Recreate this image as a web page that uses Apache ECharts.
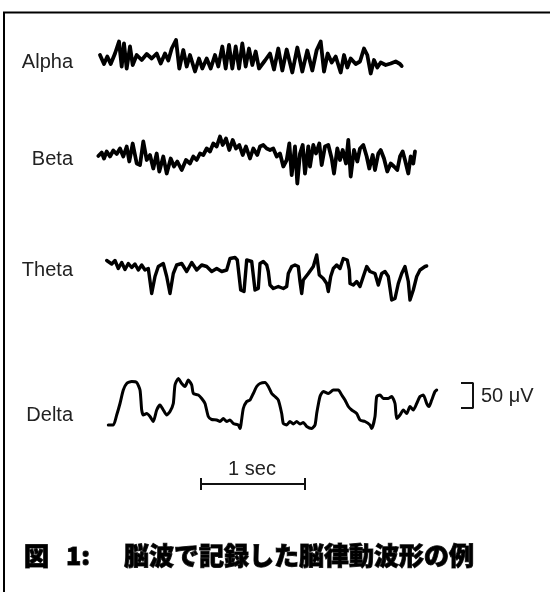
<!DOCTYPE html>
<html><head><meta charset="utf-8">
<script src="https://cdn.jsdelivr.net/npm/echarts@6/dist/echarts.min.js"></script>
<style>html,body{margin:0;padding:0;background:#fff}#c{width:550px;height:592px}</style>
</head><body><div id="c"></div>
<script>
// x unit: samples at FS samples per second; y unit: microvolts
const FS = 104;
const labels = ['Alpha', 'Beta', 'Theta', 'Delta'];
const alpha = [[10,6],[14,-12],[17.3,3],[20.7,-12],[25,9],[29,33],[31.7,-17],[34,29],[36.7,-21],[40,23],[42.7,-14],[46.7,6],[51.7,-4],[56.7,8],[61.7,-1],[66.7,9],[70.7,-11],[75,9],[78.3,-5],[81.7,19],[86,36],[89.3,-21],[93.3,16],[96.7,-17],[100,6],[105,-27],[109,-1],[112.3,-21],[116.7,-1],[120.7,-21],[125,6],[128.3,-17],[132.3,23],[135.7,-21],[139,26],[142.3,-21],[145.7,23],[149,-21],[152.3,29],[155.7,-17],[159,19],[162.3,-14],[165.7,13],[169,-21],[175,-5],[180,9],[184,-23],[188.3,19],[192.3,-25],[196.7,17],[202.3,-29],[207.3,21],[212.3,-27],[217.3,15],[222.3,-25],[226.7,16],[230.7,33],[234,-27],[237.7,9],[241.7,-9],[245.7,3],[250.7,-29],[254,6],[257.3,-19],[260.7,-1],[265.7,-12],[270,-7],[274,19],[277.3,6],[280.7,-31],[284,-4],[287.3,-19],[290.7,-9],[295.7,-14],[300.7,-11],[305.7,-7],[310,-12],[311.7,-16]];
const beta = [[8.3,4],[11.7,11],[14,-1],[16.7,13],[20,3],[23.3,15],[26.7,8],[30,19],[33.3,3],[36.7,23],[39.3,-7],[42.7,29],[46.7,-11],[50,-14],[53.3,33],[56.7,-4],[60,6],[63.3,-21],[66.7,9],[69.3,-27],[73.3,3],[76.7,-31],[80.7,-1],[84,-17],[87.3,-7],[91.7,-24],[96,-4],[100,-11],[103.3,3],[106.7,-4],[110,9],[113.3,6],[116.7,19],[120,13],[123.3,29],[126.7,23],[130,43],[132.7,26],[136,39],[139.3,16],[142.7,36],[146,19],[149.3,26],[152.7,6],[156,23],[160,-1],[163.3,19],[167.3,6],[170,23],[173.3,26],[176.7,19],[180,16],[183.3,19],[186.7,3],[190,9],[193.3,-17],[196.7,-4],[199.3,29],[201.7,-34],[205,23],[207.3,-51],[210,9],[212.7,26],[215,-31],[218.3,23],[220,-17],[223.3,26],[226,9],[229.3,29],[231.7,-14],[235,23],[238.3,26],[241.7,-1],[244,-31],[247.3,19],[250,-4],[252.7,16],[256,-11],[258.3,36],[260.7,-37],[264,16],[267.3,-7],[270,19],[273.3,26],[276.7,3],[279.3,-21],[282.7,6],[285,-24],[288.3,9],[290.7,16],[294,-1],[297.3,-27],[300.7,-11],[304,-17],[307.3,-24],[310,3],[312.7,13],[315,-4],[318.3,-31],[320.7,3],[323.3,-11],[325,13]];
const theta = [[16.7,35],[18.3,37],[21.7,28],[25,35],[28.3,19],[31.7,31],[35,17],[38.3,29],[41.7,21],[45,28],[48.3,16],[51.7,26],[55,16],[58.3,19],[61.7,-31],[65,3],[68.3,23],[73.3,29],[76.7,3],[80,-31],[83.3,9],[86.7,26],[91.7,29],[96.7,13],[101.7,31],[106.7,16],[111.7,26],[116.7,23],[121.7,13],[126.7,19],[131.7,13],[136.7,16],[140,39],[145,41],[147.3,36],[150.7,-24],[154,-27],[156.7,36],[161.7,33],[165,-24],[168.3,-21],[170,29],[173.3,33],[176.7,26],[178.3,13],[180,-14],[183.3,-21],[188.3,-17],[193.3,-21],[196.7,-17],[198.3,9],[201.7,23],[205,26],[208.3,23],[210,-7],[211.7,-31],[213.3,-4],[218.3,9],[223.3,23],[226.7,46],[229.3,6],[233.3,-1],[236.7,-11],[238.3,-27],[240.7,3],[243.3,19],[246.7,26],[250,19],[253.3,39],[257.3,36],[259.3,16],[260,-11],[263.3,-14],[266.7,-7],[270,-17],[273.3,3],[276.7,23],[280,13],[285,9],[288.3,-14],[291.7,9],[295,13],[298.3,3],[301.7,-44],[305,-41],[308.3,-11],[311.7,9],[315,23],[318.3,-7],[320,-44],[323.3,-24],[326.7,3],[330,16],[335,23],[336.7,24]];
const delta = [[18.3,-44],[23.3,-44],[26.7,-24],[30,-1],[33.3,26],[36.7,39],[41.7,43],[46.7,41],[50,26],[51.7,-14],[53.3,-24],[56.7,-21],[60,-27],[63.3,-37],[66.7,-14],[70,-4],[73.3,-14],[76.7,-24],[80,-17],[83.3,-1],[85,36],[88.3,49],[91.7,39],[95,33],[98.3,46],[101.7,36],[103.3,19],[108.3,16],[111.7,9],[115,-1],[118.3,-27],[121.7,-33],[126.7,-34],[130,-37],[133.3,-31],[136.7,-37],[140,-34],[143.3,-41],[148.3,-44],[150,-51],[153.3,-11],[156.7,3],[160,6],[163.3,19],[166.7,33],[170,39],[175,41],[178.3,33],[181.7,19],[185,13],[188.3,6],[191.7,-21],[193.3,-41],[196.7,-44],[200,-37],[203.3,-42],[206.7,-37],[210,-42],[213.3,-39],[216.7,-47],[221.7,-51],[225,-44],[226.7,-21],[230,13],[233.3,23],[238.3,19],[243.3,26],[248.3,26],[251.7,16],[255,6],[258.3,-7],[261.7,-14],[266.7,-21],[270,-34],[275,-37],[280,-44],[281.7,-51],[285,-27],[286.7,13],[290,16],[293.3,9],[298.3,9],[301.7,13],[305,-1],[306.7,-31],[310,-24],[313.3,-14],[316.7,-21],[320,-7],[323.3,-14],[326.7,-1],[330,13],[333.3,16],[336.7,-1],[339,-7],[341.7,6],[345,23],[346.7,26]];
// scale bars (in delta channel units)
const secBarStart = 111;          // samples
const secBarLevel = -162;         // µV
const secTick = [-150, -174];
const uvBarX = [371, 383];        // samples
const uvBarRange = [-10, 40];     // 50 µV
const secText = '1 sec';
const uvText = '50 μV';
const titleParts = ['図', '1:', '脳波で記録した脳律動波形の例'];

const chart = echarts.init(document.getElementById('c'), null, {renderer: 'canvas'});
const grids = [
  {left: 90, width: 416, top: 8, height: 100},
  {left: 90, width: 416, top: 108, height: 100},
  {left: 90, width: 416, top: 228, height: 100},
  {left: 90, width: 416, top: 303, height: 200}
];
const yr = [100, 100, 100, 200];
const xAxes = grids.map((g, i) => ({gridIndex: i, type: 'value', min: 0, max: 416, show: false}));
const yAxes = grids.map((g, i) => ({gridIndex: i, type: 'value', min: -yr[i], max: yr[i], show: false}));
const waves = [alpha, beta, theta, delta];
const widths = [3.8, 3.8, 3.4, 3.0];
const series = waves.map((d, i) => ({
  type: 'line', xAxisIndex: i, yAxisIndex: i, data: d, symbol: 'none', smooth: i === 3 ? 0.2 : false,
  lineStyle: {color: '#000', width: widths[i], join: 'round', cap: 'round'}, silent: true, clip: false
}));
const a = secBarStart, b = secBarStart + FS;
series.push({
  type: 'line', xAxisIndex: 3, yAxisIndex: 3, symbol: 'none', silent: true,
  data: [[a, secTick[0]], [a, secTick[1]], [a, secBarLevel], [b, secBarLevel], [b, secTick[0]], [b, secTick[1]]],
  lineStyle: {color: '#111', width: 2}
});
series.push({
  type: 'line', xAxisIndex: 3, yAxisIndex: 3, symbol: 'none', silent: true,
  data: [[uvBarX[0], uvBarRange[1]], [uvBarX[1], uvBarRange[1]], [uvBarX[1], uvBarRange[0]], [uvBarX[0], uvBarRange[0]]],
  lineStyle: {color: '#111', width: 2}
});
const labelY = [62, 159, 270.5, 415.5];
const lbl = {fontFamily: '"Liberation Sans", Arial, sans-serif', fontSize: 20, fill: '#222', textVerticalAlign: 'middle'};
const graphic = labels.map((t, i) => ({
  type: 'text', x: 73, y: labelY[i],
  style: Object.assign({text: t, textAlign: 'right'}, lbl)
}));
graphic.push({type: 'text', x: 252, y: 469, style: Object.assign({text: secText, textAlign: 'center'}, lbl)});
graphic.push({type: 'text', x: 481, y: 396, style: Object.assign({text: uvText, textAlign: 'left'}, lbl)});
const tx = [24, 66, 124];
titleParts.forEach((t, i) => graphic.push({
  type: 'text', x: tx[i], y: 555,
  style: {text: t, fontFamily: '"Noto Sans CJK JP", sans-serif', fontWeight: 900, fontSize: 25,
    fill: '#000', stroke: '#333', lineWidth: 1, textAlign: 'left', textVerticalAlign: 'middle'}
}));
graphic.push({type: 'rect', shape: {x: 4, y: 12.5, width: 700, height: 700}, style: {fill: 'none', stroke: '#000', lineWidth: 2}});
chart.setOption({
  backgroundColor: '#fff', animation: false,
  grid: grids, xAxis: xAxes, yAxis: yAxes, series: series, graphic: graphic
});
</script></body></html>
